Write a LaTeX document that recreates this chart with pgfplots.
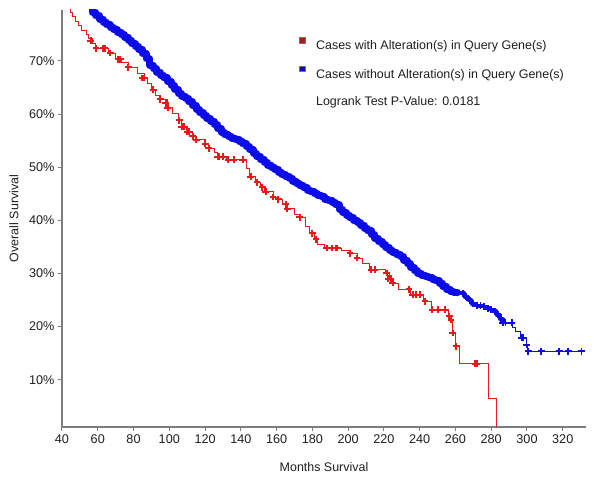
\documentclass[border=0pt]{standalone}
\usepackage{fontspec}
\setmainfont{Liberation Sans}
\usepackage{pgfplots}
\pgfplotsset{compat=1.18}
\usepackage{pgfplotstable}
\definecolor{kmred}{RGB}{238,22,22}
\definecolor{kmblue}{RGB}{12,12,232}
\definecolor{axgray}{RGB}{125,125,125}
\definecolor{txt}{RGB}{30,30,30}

\pgfplotstableread{
m s
40 82
43 80.3
44.5 79.2
46 78.3
47.5 77.4
49 76.6
51 75.8
53.5 75.0
55 74.2
57 73.3
58.5 72.4
66 71.5
70 70.5
73 69.8
77 68.8
82 67.6
86 66.8
88 65.8
90 64.6
92 63.6
95 62.8
99 61.2
102 60.2
105 58.8
107 57.6
110 56.7
113 55.8
115 55.2
120 54.4
122 53.6
125 52.8
127 52.0
132 51.4
143 49.8
145 48.2
148 47.2
151 46.2
153 45.4
158 44.4
161 44.0
163 43.0
166 42.2
170 41.2
173 40.6
176 38.8
178.5 37.6
181 36.4
183 35.4
187 34.8
196 34.4
201 33.8
205 32.9
208 31.8
212 30.7
221 30.1
223 29.0
224.5 28.2
228 27.0
235 26.0
242 24.8
246.5 23.2
256 22.0
257.5 21.3
258.5 18.8
260 16.3
262.3 13.0
278.3 6.5
282.8 0
}\redcurve

\pgfplotstableread{
m s
56 73.8
59 72.4
63 72.4
64 72.4
67 71.5
71.5 70.3
72.5 70.3
77 68.8
85 66.8
86 66.8
91 64.6
95 62.8
98 62.0
99 61.2
105.5 58.8
107 57.6
108 57.6
110 56.7
111 56.7
113 55.8
115 55.2
120 54.4
122 53.6
127 52.0
128 52.0
130 52.0
133 51.4
136 51.4
141 51.4
145.5 48.2
149 47.2
152 46.2
154 45.4
158 44.4
161 44.0
165 43.0
166 42.2
173 40.6
180 37.6
182 36.4
188 34.8
191 34.8
193 34.8
194 34.8
201 33.8
205 32.9
213 30.7
215 30.7
221.5 30.1
222.5 29.0
224 29.0
225 28.2
234 27.0
236 26.0
238 26.0
240 26.0
243 24.8
247 23.2
250 23.2
254 23.2
256.5 22.0
257.5 21.3
258.5 18.8
260.5 16.3
271 13.0
272 13.0
}\redcens

\pgfplotstableread{
m s
52 81.0
54 80.6
57 79.2
59 78.5
61 77.9
63 77.3
65 76.8
67 76.3
69 75.9
71 75.4
73 74.9
75 74.5
77 73.9
79 73.3
81 72.8
83 72.2
85 71.4
87 70.4
89 69.2
91 68.5
93 67.9
95 67.3
97 66.8
99 66.1
101 65.4
103 64.6
105 63.9
107 63.4
109 63.0
111 62.3
113 61.6
115 60.9
117 60.3
119 59.7
121 59.2
123 58.7
125 58.0
127 57.3
129 56.6
131 56.1
133 55.8
135 55.5
137 55.2
139 54.8
141 54.4
143 53.9
145 53.3
147 52.6
149 52.0
151 51.4
153 50.9
155 50.4
157 50.0
159 49.6
161 49.1
163 48.7
165 48.3
167 47.9
169 47.4
171 46.9
173 46.5
175 46.1
177 45.7
179 45.4
181 45.0
183 44.7
185 44.4
187 44.0
189 43.7
191 43.3
193 42.9
195 42.1
197 41.5
199 41.0
201 40.5
203 40.0
205 39.6
207 39.1
209 38.5
211 38.0
213 37.3
215 36.6
217 36.0
219 35.4
221 34.9
223 34.4
225 34.0
227 33.6
229 33.2
231 32.5
233 31.8
235 31.1
237 30.5
239 30.0
241 29.7
243 29.4
245 29.2
247 28.9
249 28.6
251 28.2
253 27.6
255 27.0
257 26.6
259 26.5
261 26.4
263 26.3
265 25.6
267 25.0
269 24.3
271 24.0
273 23.9
275 23.8
277 23.5
279 23.2
281 22.9
283 22.2
285 21.4
286.6 20.7
292 19.9
293.5 19.1
296.5 17.9
299.5 16.6
300.5 15.4
332 15.4
}\bluecurve

\pgfplotstableread{
m s
264 26.3
266 25.6
268 25.0
270 24.3
272 24.0
274 23.9
276 23.8
278 23.5
280 23.2
282 22.9
284 22.2
285.5 21.4
286.5 20.7
288 20.7
291.5 20.7
297 17.9
298 17.9
299.7 16.6
300.6 15.4
308 15.4
318 15.4
323 15.4
330.5 15.4
}\bluecens

\begin{document}
\begin{tikzpicture}
\useasboundingbox (0,0) rectangle (600bp,481bp);
\begin{axis}[
  at={(62bp,54bp)}, anchor=south west,
  scale only axis,
  width=524bp, height=417bp,
  xmin=40, xmax=333, ymin=1.1, ymax=79.6,
  axis x line=bottom, axis y line=left,
  axis line style={axgray, line width=1.8bp, -},
  tick align=outside,
  major tick length=4bp,
  tick style={axgray, line width=1bp},
  xtick={40,60,...,320},
  ytick={10,20,...,70},
  yticklabel={\pgfmathprintnumber{\tick}\%},
  /pgf/number format/assume math mode=true,
  ticklabel style={font=\fontsize{12.7}{14}\selectfont, text=txt},
  xlabel={Months Survival},
  ylabel={Overall Survival},
  label style={font=\fontsize{12.5}{14}\selectfont, text=txt},
  xlabel style={at={(axis description cs:0.5,-0.096)}, anchor=center},
  ylabel style={at={(axis description cs:-0.0916,0.5)}, anchor=center, rotate=0},
  legend style={draw=none, fill=none, font=\fontsize{12.5}{14}\selectfont, text=txt,
    at={(axis description cs:0.4388,0.940)}, anchor=north west, row sep=12.3bp},
  legend cell align=left,
  clip=true,
]
\addlegendimage{legend image code/.code={\path[draw=none,fill=none] (-8bp,0) -- (11bp,0); \node[draw=black!55, fill=kmred!80!black, minimum size=5.5bp, inner sep=0pt, line width=0.6bp] at (-4bp,0) {};}}
\addlegendentry{Cases with Alteration(s) in Query Gene(s)}
\addlegendimage{legend image code/.code={\path[draw=none,fill=none] (-8bp,0) -- (11bp,0); \node[draw=black!55, fill=kmblue!85!black, minimum size=5.5bp, inner sep=0pt, line width=0.6bp] at (-4bp,0) {};}}
\addlegendentry{Cases without Alteration(s) in Query Gene(s)}
\addlegendimage{empty legend}
\addlegendentry{Logrank Test P-Value: 0.0181}

\addplot[forget plot, const plot, kmred, line width=0.9bp] table[x=m,y=s]{\redcurve};
\addplot[forget plot, only marks, mark=+, mark size=3.4bp, kmred, mark options={line width=2bp}] table[x=m,y=s]{\redcens};
\addplot[forget plot, const plot, kmblue, line width=1bp] table[x=m,y=s]{\bluecurve};
\addplot[forget plot, const plot, kmblue, line width=7bp, line join=round, line cap=round, restrict x to domain=50:262] table[x=m,y=s]{\bluecurve};
\addplot[forget plot, const plot, kmblue, line width=3.5bp, line join=round, line cap=round, restrict x to domain=261:287] table[x=m,y=s]{\bluecurve};
\addplot[forget plot, only marks, mark=+, mark size=3.5bp, kmblue, mark options={line width=1.8bp}] table[x=m,y=s]{\bluecens};
\end{axis}
\end{tikzpicture}
\end{document}
